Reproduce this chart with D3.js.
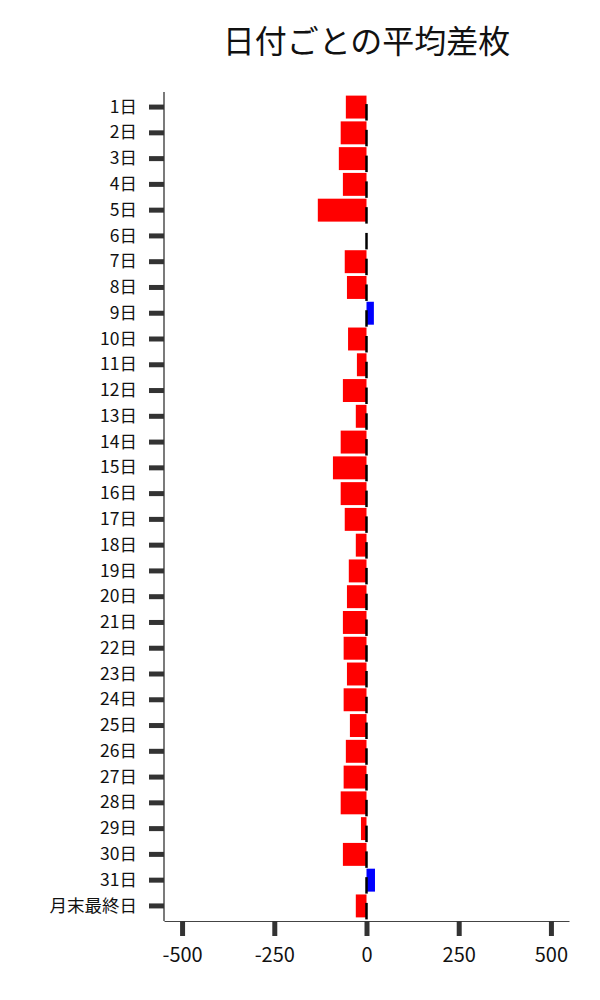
<!DOCTYPE html>
<html>
<head>
<meta charset="utf-8">
<script src="https://cdn.jsdelivr.net/npm/d3@7"></script>
<style>
  body { margin: 0; background: #fff; }
  text { font-family: "Noto Sans CJK JP", "Noto Sans", sans-serif; }
</style>
</head>
<body>
<div id="chart"></div>
<script>
// 日付ラベル
const days = ["1日","2日","3日","4日","5日","6日","7日","8日","9日","10日",
  "11日","12日","13日","14日","15日","16日","17日","18日","19日","20日",
  "21日","22日","23日","24日","25日","26日","27日","28日","29日","30日",
  "31日","月末最終日"];
// 平均差枚
const avgDiff = [-56,-70,-75,-64,-132,0,-59,-53,20,-50,
  -26,-64,-29,-70,-91,-70,-59,-29,-48,-53,
  -64,-62,-53,-62,-45,-56,-62,-70,-15,-64,
  23,-29];
const xTicks = [-500,-250,0,250,500];
const title = "日付ごとの平均差枚";

const width = 600, height = 1000;
const margin = { top: 92, right: 31, bottom: 79, left: 164 };

const svg = d3.select("#chart").append("svg")
  .attr("width", width)
  .attr("height", height);

const x = d3.scaleLinear()
  .domain([-549, 549])
  .range([margin.left, width - margin.right]);

const y = d3.scaleBand()
  .domain(days)
  .range([margin.top, height - margin.bottom])
  .paddingInner(0.11)
  .paddingOuter(0.14);

svg.append("text")
  .attr("x", (margin.left + width - margin.right) / 2)
  .attr("y", 53)
  .attr("text-anchor", "middle")
  .attr("font-size", 32)
  .attr("fill", "#111")
  .text(title);

// bars
svg.selectAll("rect.bar")
  .data(avgDiff)
  .enter().append("rect")
  .attr("class", "bar")
  .attr("x", d => x(Math.min(0, d)))
  .attr("width", d => Math.abs(x(d) - x(0)))
  .attr("y", (d, i) => y(days[i]))
  .attr("height", y.bandwidth())
  .attr("fill", d => d < 0 ? "#ff0000" : "#0000ff");

// short black marks at zero
svg.selectAll("line.mark")
  .data(avgDiff)
  .enter().append("line")
  .attr("class", "mark")
  .attr("x1", x(0))
  .attr("x2", x(0))
  .attr("y1", (d, i) => y(days[i]) + y.bandwidth() / 2 - 3)
  .attr("y2", (d, i) => y(days[i]) + y.bandwidth() + 2)
  .attr("stroke", "#000")
  .attr("stroke-width", 2.5);

// y axis
const yAxis = svg.append("g")
  .attr("transform", `translate(${margin.left},0)`)
  .call(d3.axisLeft(y).tickSize(15).tickPadding(12).tickSizeOuter(0));
yAxis.select(".domain").attr("stroke", "#222").attr("stroke-width", 1.2)
  .attr("d", `M0,${margin.top}V${height - margin.bottom}`);
yAxis.selectAll(".tick line").attr("stroke", "#333").attr("stroke-width", 5);
yAxis.selectAll(".tick text").attr("font-size", 17.5).attr("fill", "#111")
  .attr("font-family", "'Noto Sans CJK JP', sans-serif");

// x axis
const xAxis = svg.append("g")
  .attr("transform", `translate(0,${height - margin.bottom})`)
  .call(d3.axisBottom(x).tickValues(xTicks).tickFormat(d => String(d))
    .tickSize(15).tickPadding(12).tickSizeOuter(0));
xAxis.select(".domain").attr("stroke", "#444").attr("stroke-width", 1.2);
xAxis.selectAll(".tick line").attr("stroke", "#333").attr("stroke-width", 5);
xAxis.selectAll(".tick text").attr("font-size", 20).attr("fill", "#111")
  .attr("font-family", "'Noto Sans CJK JP', sans-serif");
</script>
</body>
</html>
